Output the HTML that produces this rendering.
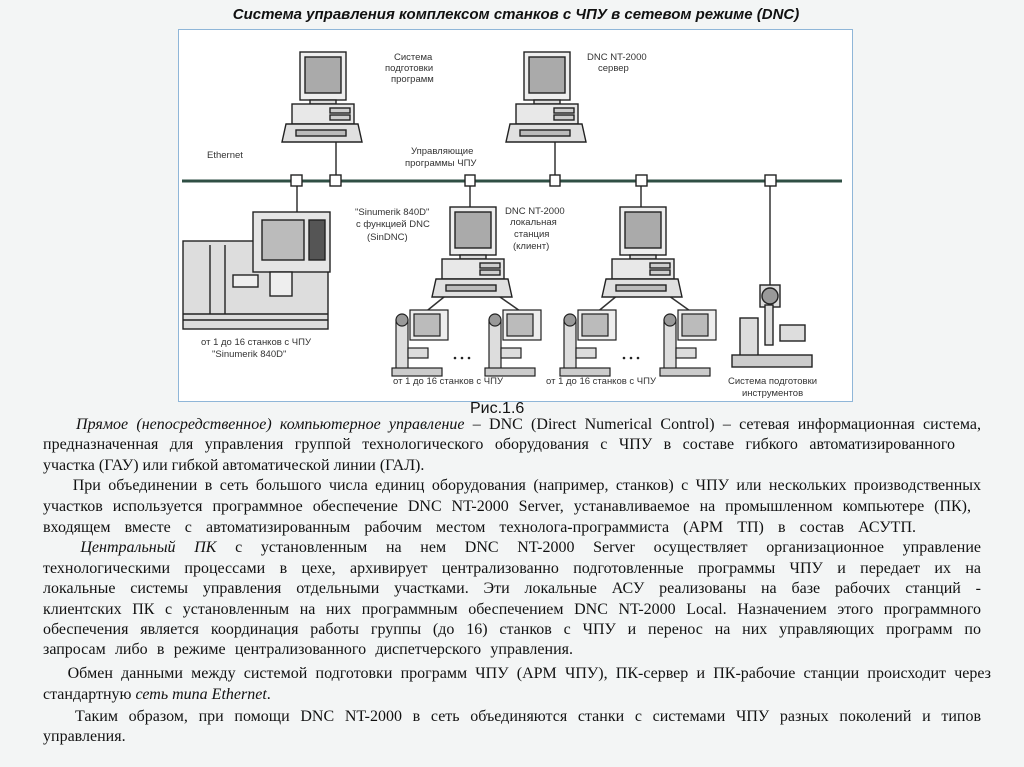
<!DOCTYPE html>
<html><head><meta charset="utf-8"><style>
body{margin:0;width:1024px;height:767px;background:#f3f5f5;position:relative;overflow:hidden;font-family:"Liberation Serif","Noto Serif CJK SC",serif}
.t{position:absolute;left:196px;top:6px;width:640px;text-align:center;font:italic bold 15px "Liberation Sans",sans-serif;color:#111}
.box{position:absolute;left:178px;top:29px;width:673px;height:371px;background:#fff;border:1px solid #8fb6d8}
.cap{position:absolute;left:470px;top:400px;font:16px "Liberation Sans",sans-serif;color:#111}
.l{position:absolute;left:43px;width:938px;font-size:16px;line-height:20px;color:#111;white-space:nowrap}
.j{text-align:justify;text-align-last:justify;white-space:normal;height:20px;overflow:hidden}
</style></head><body>
<div class="t">Система управления комплексом станков с ЧПУ  в сетевом режиме (DNC)</div>
<div class="box"></div>
<svg style="position:absolute;left:0;top:0" width="1024" height="410" font-family="Liberation Sans,sans-serif" font-size="9.5" fill="#333">
<defs>
<g id="pc" stroke="#222" stroke-width="1.4">
<rect x="18" y="0" width="46" height="48" fill="#eee"/>
<rect x="23" y="5" width="36" height="36" fill="#aaa"/>
<rect x="28" y="48" width="26" height="4" fill="#ddd"/>
<rect x="10" y="52" width="62" height="20" fill="#e8e8e8"/>
<rect x="48" y="56" width="20" height="5" fill="#ccc"/><rect x="48" y="63" width="20" height="5" fill="#ccc"/>
<polygon points="4,72 76,72 80,90 0,90" fill="#e0e0e0"/>
<rect x="14" y="78" width="50" height="6" fill="#bbb"/>
</g>
<g id="mc" stroke="#222" stroke-width="1.2" fill="#ddd">
<rect x="18" y="0" width="38" height="30" fill="#eee"/><rect x="22" y="4" width="26" height="22" fill="#bbb"/>
<rect x="4" y="10" width="12" height="50"/><circle cx="10" cy="10" r="6" fill="#999"/>
<rect x="16" y="38" width="20" height="10"/><rect x="0" y="58" width="50" height="8" fill="#ccc"/>
</g>
</defs>
<line x1="182" y1="181" x2="842" y2="181" stroke="#2f4f44" stroke-width="3"/>
<g stroke="#333" stroke-width="1.5">
<line x1="336" y1="142" x2="336" y2="181"/><line x1="555" y1="142" x2="555" y2="181"/>
<line x1="297" y1="181" x2="297" y2="215"/><line x1="470" y1="181" x2="470" y2="207"/>
<line x1="641" y1="181" x2="641" y2="207"/><line x1="770" y1="181" x2="770" y2="288"/>
<line x1="470" y1="276" x2="418" y2="318"/><line x1="470" y1="276" x2="530" y2="318"/>
<line x1="641" y1="276" x2="590" y2="318"/><line x1="641" y1="276" x2="700" y2="318"/>
</g>
<g fill="#fff" stroke="#222" stroke-width="1.4">
<rect x="291" y="175" width="11" height="11"/><rect x="330" y="175" width="11" height="11"/>
<rect x="465" y="175" width="10" height="11"/><rect x="550" y="175" width="10" height="11"/>
<rect x="636" y="175" width="11" height="11"/><rect x="765" y="175" width="11" height="11"/>
</g>
<use href="#pc" x="282" y="52"/><use href="#pc" x="506" y="52"/>
<use href="#pc" x="432" y="207"/><use href="#pc" x="602" y="207"/>
<g stroke="#222" stroke-width="1.4" fill="#ddd">
<rect x="183" y="241" width="145" height="88"/><line x1="183" y1="314" x2="328" y2="314"/><line x1="183" y1="320" x2="328" y2="320"/>
<line x1="210" y1="245" x2="210" y2="314"/><line x1="225" y1="245" x2="225" y2="314"/>
<rect x="233" y="275" width="25" height="12" fill="#eee"/>
<rect x="253" y="212" width="77" height="60" fill="#e5e5e5"/><rect x="262" y="220" width="42" height="40" fill="#bbb"/>
<rect x="309" y="220" width="16" height="40" fill="#555"/>
<rect x="270" y="272" width="22" height="24" fill="#eee"/>
</g>
<use href="#mc" x="392" y="310"/><use href="#mc" x="485" y="310"/>
<use href="#mc" x="560" y="310"/><use href="#mc" x="660" y="310"/>
<g fill="#222"><circle cx="455" cy="358" r="1.3"/><circle cx="462" cy="358" r="1.3"/><circle cx="469" cy="358" r="1.3"/><circle cx="624" cy="358" r="1.3"/><circle cx="631" cy="358" r="1.3"/><circle cx="638" cy="358" r="1.3"/></g>
<g stroke="#222" stroke-width="1.4" fill="#ddd">
<rect x="760" y="285" width="20" height="22"/><circle cx="770" cy="296" r="8" fill="#999"/>
<rect x="740" y="318" width="18" height="40"/><rect x="765" y="305" width="8" height="40"/>
<rect x="780" y="325" width="25" height="16"/>
<rect x="732" y="355" width="80" height="12" fill="#ccc"/>
</g>
<text x="394" y="60">Система</text><text x="385" y="71">подготовки</text><text x="391" y="82">программ</text>
<text x="587" y="60">DNC NT-2000</text><text x="598" y="71">сервер</text>
<text x="207" y="158">Ethernet</text>
<text x="411" y="154">Управляющие</text><text x="405" y="166">программы ЧПУ</text>
<text x="355" y="215">"Sinumerik 840D"</text><text x="356" y="227">с функцией DNC</text><text x="367" y="240">(SinDNC)</text>
<text x="505" y="214">DNC NT-2000</text><text x="510" y="225">локальная</text><text x="514" y="237">станция</text><text x="513" y="249">(клиент)</text>
<text x="201" y="345">от 1 до 16 станков с ЧПУ</text><text x="212" y="357">"Sinumerik 840D"</text>
<text x="393" y="384">от 1 до 16 станков с ЧПУ</text><text x="546" y="384">от 1 до 16 станков с ЧПУ</text>
<text x="728" y="384">Система подготовки</text><text x="742" y="396">инструментов</text>
</svg>
<div class="cap">Рис.1.6</div>
<div class="l j" style="top:415px">&nbsp;&nbsp;&nbsp;&nbsp;<i>Прямое (непосредственное) компьютерное управление</i> – DNC (Direct Numerical Control) – сетевая информационная система,</div>
<div class="l j" style="top:435px;width:912px">предназначенная для управления группой технологического оборудования  с ЧПУ в составе гибкого автоматизированного</div>
<div class="l" style="top:456px">участка  (ГАУ) или гибкой автоматической линии (ГАЛ).</div>
<div class="l j" style="top:476px">&nbsp;&nbsp;&nbsp;&nbsp;При объединении в сеть большого числа единиц оборудования (например, станков) с ЧПУ или нескольких производственных</div>
<div class="l j" style="top:497px;width:928px">участков используется программное обеспечение DNC NT-2000 Server, устанавливаемое на промышленном компьютере (ПК),</div>
<div class="l j" style="top:518px;width:873px">входящем вместе с автоматизированным рабочим местом технолога-программиста (АРМ ТП) в состав АСУТП.</div>
<div class="l j" style="top:538px">&nbsp;&nbsp;<i>Центральный ПК</i> с установленным на нем DNC NT-2000 Server осуществляет организационное управление</div>
<div class="l j" style="top:559px">технологическими процессами в цехе, архивирует централизованно подготовленные программы ЧПУ и передает их на</div>
<div class="l j" style="top:579px">локальные системы управления отдельными участками. Эти локальные АСУ реализованы на базе рабочих станций -</div>
<div class="l j" style="top:600px">клиентских ПК с установленным на них программным обеспечением DNC NT-2000 Local.  Назначением этого программного</div>
<div class="l j" style="top:620px">обеспечения является координация работы группы (до 16) станков с ЧПУ и перенос на них управляющих программ по</div>
<div class="l j" style="top:640px;width:530px">запросам либо в режиме централизованного диспетчерского управления.</div>
<div class="l j" style="top:664px;width:948px">&nbsp;&nbsp;&nbsp;Обмен данными между системой подготовки программ ЧПУ (АРМ ЧПУ), ПК-сервер и ПК-рабочие станции происходит через</div>
<div class="l" style="top:685px">стандартную <i>сеть типа Ethernet</i>.</div>
<div class="l j" style="top:707px">&nbsp;&nbsp;&nbsp;Таким образом, при помощи DNC NT-2000  в сеть объединяются станки с системами ЧПУ разных поколений и типов</div>
<div class="l" style="top:727px">управления.</div>
</body></html>
